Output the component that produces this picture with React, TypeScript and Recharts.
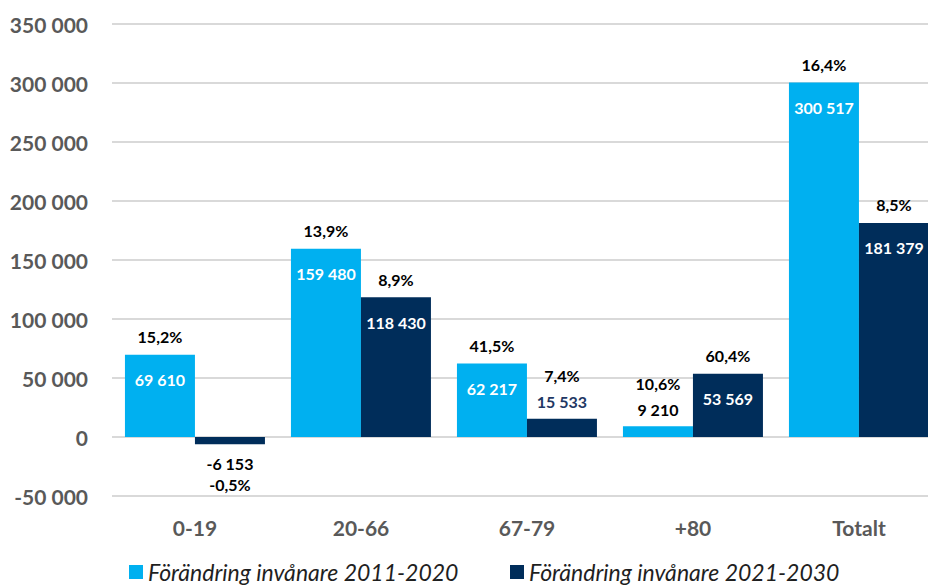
import React from 'react';
import { BarChart, Bar, XAxis, YAxis, CartesianGrid, Legend, LabelList } from 'recharts';

const categories = ['0-19', '20-66', '67-79', '+80', 'Totalt'];
const change2011_2020 = [69610, 159480, 62217, 9210, 300517];
const change2021_2030 = [-6153, 118430, 15533, 53569, 181379];
const pct2011_2020 = [15.2, 13.9, 41.5, 10.6, 16.4];
const pct2021_2030 = [-0.5, 8.9, 7.4, 60.4, 8.5];
const yTicks = [-50000, 0, 50000, 100000, 150000, 200000, 250000, 300000, 350000];
const seriesNames = ['Förändring invånare 2011-2020', 'Förändring invånare 2021-2030'];

const LIGHT = '#00B0F0';
const NAVY = '#002D5A';
const FONT = 'Lato, "Open Sans", sans-serif';

const data = categories.map((c, i) => ({
  category: c,
  a: change2011_2020[i],
  b: change2021_2030[i],
}));

const fmtNum = (v: number) => {
  const s = Math.abs(v).toString().replace(/\B(?=(\d{3})+(?!\d))/g, ' ');
  return (v < 0 ? '-' : '') + s;
};
const fmtPct = (v: number) => v.toFixed(1).replace('.', ',') + '%';

const makeLabel = (pcts: number[], outsideColor: string) => (props: any) => {
  const { x, y, width, height, value, index } = props;
  const top = Math.min(y, y + height);
  const bottom = Math.max(y, y + height);
  const cx = x + width / 2;
  const common = {
    x: cx,
    textAnchor: 'middle' as const,
    dominantBaseline: 'central' as const,
    fontFamily: FONT,
    fontWeight: 700,
    fontSize: 16,
  };
  if (value < 0) {
    return (
      <g>
        <text {...common} y={bottom + 19} fill="#000">{fmtNum(value)}</text>
        <text {...common} y={bottom + 40} fill="#000">{fmtPct(pcts[index])}</text>
      </g>
    );
  }
  if (value < 30000) {
    return (
      <g>
        <text {...common} y={top - 17} fill={outsideColor}>{fmtNum(value)}</text>
        <text {...common} y={top - 43} fill="#000">{fmtPct(pcts[index])}</text>
      </g>
    );
  }
  return (
    <g>
      <text {...common} y={top + 25} fill="#fff">{fmtNum(value)}</text>
      <text {...common} y={top - 18} fill="#000">{fmtPct(pcts[index])}</text>
    </g>
  );
};

const YTick = (props: any) => {
  const { x, y, payload } = props;
  return (
    <text x={x - 24} y={y} textAnchor="end" dominantBaseline="central" fill="#595959"
      fontFamily={FONT} fontWeight={700} fontSize={21}>
      {fmtNum(payload.value)}
    </text>
  );
};

const XTick = (props: any) => {
  const { x, y, payload } = props;
  return (
    <text x={x} y={y + 31} textAnchor="middle" dominantBaseline="central" fill="#595959"
      fontFamily={FONT} fontWeight={700} fontSize={21}>
      {payload.value}
    </text>
  );
};

const LegendContent = () => (
  <div style={{ height: 45, position: 'relative', fontFamily: FONT, fontStyle: 'italic', fontSize: 23, color: '#1f1f1f' }}>
    {[LIGHT, NAVY].map((c, i) => (
      <div key={i} style={{ position: 'absolute', left: i === 0 ? 129 : 510, top: 18, display: 'flex', alignItems: 'center', whiteSpace: 'nowrap', lineHeight: '28px' }}>
        <span style={{ display: 'inline-block', width: 14, height: 14, background: c, marginRight: 5 }} />
        <span>{seriesNames[i]}</span>
      </div>
    ))}
  </div>
);

export default function App() {
  return (
    <div style={{ position: 'fixed', left: 0, top: 0, width: 928, height: 585, overflow: 'hidden', background: '#fff' }}>
      <BarChart width={942} height={585} data={data} margin={{ top: 24, right: 0, bottom: 0, left: 0 }}
        barCategoryGap="7.8%" barGap={0}>
        <CartesianGrid vertical={false} stroke="#d9d9d9" strokeWidth={2} />
        <XAxis dataKey="category" axisLine={false} tickLine={false} tickSize={0} tickMargin={0} height={44} tick={<XTick />} />
        <YAxis domain={[-50000, 350000]} ticks={yTicks} interval={0} axisLine={false} tickLine={false}
          tickSize={0} tickMargin={0} width={112} tick={<YTick />} />
        <Legend verticalAlign="bottom" content={<LegendContent />} wrapperStyle={{ width: 928, left: 0, height: 45 }} />
        <Bar dataKey="a" name={seriesNames[0]} fill={LIGHT} isAnimationActive={false}>
          <LabelList dataKey="a" content={makeLabel(pct2011_2020, '#000')} />
        </Bar>
        <Bar dataKey="b" name={seriesNames[1]} fill={NAVY} isAnimationActive={false}>
          <LabelList dataKey="b" content={makeLabel(pct2021_2030, '#1F3864')} />
        </Bar>
      </BarChart>
    </div>
  );
}
